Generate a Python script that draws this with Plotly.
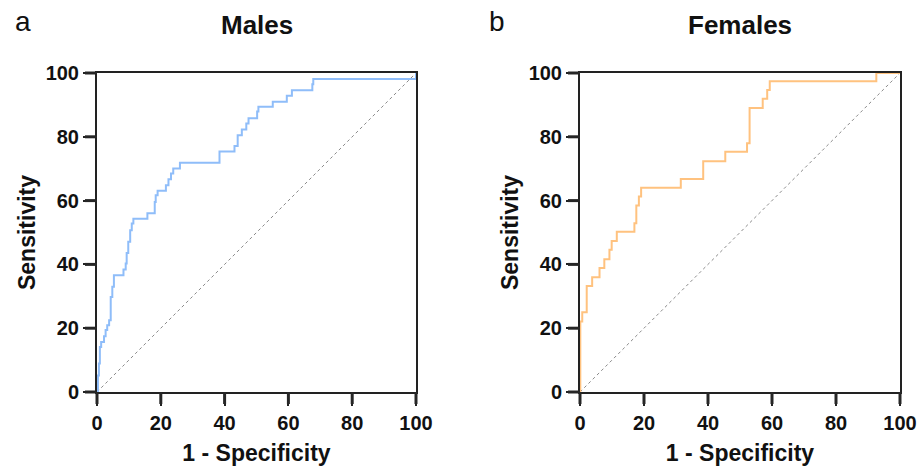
import plotly.graph_objects as go

# ROC step vertices: (1 - specificity, sensitivity) in percent
male_fpr = [0, 0.3, 0.6, 0.9, 1.3, 2.2, 2.7, 3.2, 3.8, 4.3, 4.8, 5.3, 8.3, 9.0, 9.3, 9.8,
            10.4, 10.9, 11.4, 15.8, 18.1, 18.4, 19.0, 21.6, 22.4, 23.2, 23.9, 26.0, 38.4,
            43.1, 44.1, 45.4, 46.8, 47.5, 50.2, 50.6, 55.1, 59.5, 61.1, 67.5, 67.8, 100]
male_tpr = [0, 5.2, 8.9, 14.1, 15.7, 17.5, 19.4, 20.9, 22.5, 29.8, 33.0, 36.6, 38.4, 40.3,
            43.6, 47.1, 50.7, 52.8, 54.3, 56.0, 59.6, 61.7, 63.1, 64.8, 66.7, 68.5, 70.1,
            71.9, 75.4, 77.1, 80.5, 82.3, 84.2, 85.8, 87.9, 89.4, 91.0, 92.9, 94.6, 96.5,
            98.1, 100]

female_fpr = [0, 0.1, 0.7, 2.1, 3.8, 6.1, 7.6, 9.2, 9.9, 11.5, 17.0, 17.6, 18.4, 19.1,
              31.5, 38.5, 45.4, 52.2, 53.0, 57.1, 58.5, 59.3, 92.6, 100]
female_tpr = [0, 22.1, 25.0, 33.2, 36.0, 38.9, 41.6, 44.6, 47.3, 50.2, 52.9, 58.5, 61.3,
              64.0, 66.8, 72.3, 75.3, 78.0, 89.0, 91.9, 94.7, 97.4, 100, 100]

reference_line = [0, 100]
tick_values = [0, 20, 40, 60, 80, 100]

panel_titles = ["Males", "Females"]
panel_letters = ["a", "b"]
male_color = "#8fbdf9"
female_color = "#ffc27f"

FONT = "Liberation Sans, Arial, sans-serif"
AXIS_COLOR = "rgb(34,34,34)"
W, H = 919, 471
TICK_LEN = 12

x_domains = [[97 / W, 416 / W], [580 / W, 900 / W]]
y_domain = [(H - 392) / H, (H - 73) / H]

fig = go.Figure()

for i, (fpr, tpr, col) in enumerate([(male_fpr, male_tpr, male_color),
                                      (female_fpr, female_tpr, female_color)]):
    xa = "x" if i == 0 else "x2"
    ya = "y" if i == 0 else "y2"
    fig.add_trace(go.Scatter(x=reference_line, y=reference_line, mode="lines",
                             line=dict(color="#8a8a8a", width=1, dash="dot"),
                             xaxis=xa, yaxis=ya, showlegend=False, hoverinfo="skip",
                             cliponaxis=False))
    fig.add_trace(go.Scatter(x=fpr, y=tpr, mode="lines", line_shape="hv",
                             line=dict(color=col, width=2), cliponaxis=False,
                             xaxis=xa, yaxis=ya, showlegend=False))

for i in range(2):
    sfx = "" if i == 0 else "2"
    fig.layout["xaxis" + sfx] = dict(domain=x_domains[i], anchor="y" + sfx)
    fig.layout["yaxis" + sfx] = dict(domain=y_domain, anchor="x" + sfx)
    cx = (x_domains[i][0] + x_domains[i][1]) / 2
    fig.add_annotation(text=panel_titles[i], x=cx, y=(H - 25) / H, xref="paper", yref="paper",
                       showarrow=False, yanchor="middle", xanchor="center",
                       font=dict(family=FONT, size=26, color="#111", weight="bold"))
    fig.add_annotation(text=panel_letters[i], x=(13 if i == 0 else 487) / W, y=(H - 22) / H,
                       xref="paper", yref="paper", showarrow=False,
                       xanchor="left", yanchor="middle",
                       font=dict(family=FONT, size=28, color="#111"))

    # outward tick marks on the bottom and left axes
    x0, x1 = x_domains[i]
    y0, y1 = y_domain
    for v in tick_values:
        px = x0 + (x1 - x0) * v / 100
        fig.add_shape(type="line", xref="paper", yref="paper",
                      x0=px, x1=px, y0=y0, y1=y0 - TICK_LEN / H,
                      line=dict(color="#262626", width=3))
        py = y0 + (y1 - y0) * v / 100
        fig.add_shape(type="line", xref="paper", yref="paper",
                      x0=x0 - TICK_LEN / W, x1=x0, y0=py, y1=py,
                      line=dict(color="#262626", width=3))

axis_style = dict(
    range=[0, 100], tickmode="array", tickvals=tick_values,
    ticks="outside", ticklen=TICK_LEN, tickwidth=2, tickcolor=AXIS_COLOR,
    showline=True, linecolor=AXIS_COLOR, linewidth=2, mirror=True,
    showgrid=False, zeroline=False, automargin=False, layer="below traces",
    tickfont=dict(family=FONT, size=20, color="#111", weight="bold"),
)
fig.update_xaxes(**axis_style)
fig.update_yaxes(**axis_style)
fig.update_xaxes(title=dict(text="1 - Specificity", standoff=12,
                            font=dict(family=FONT, size=23, color="#111", weight="bold")))
fig.update_yaxes(title=dict(text="Sensitivity", standoff=4,
                            font=dict(family=FONT, size=23, color="#111", weight="bold")))

fig.update_layout(width=W, height=H, margin=dict(l=0, r=0, t=0, b=0),
                  paper_bgcolor="white", plot_bgcolor="white")

fig.write_html("out.html")
